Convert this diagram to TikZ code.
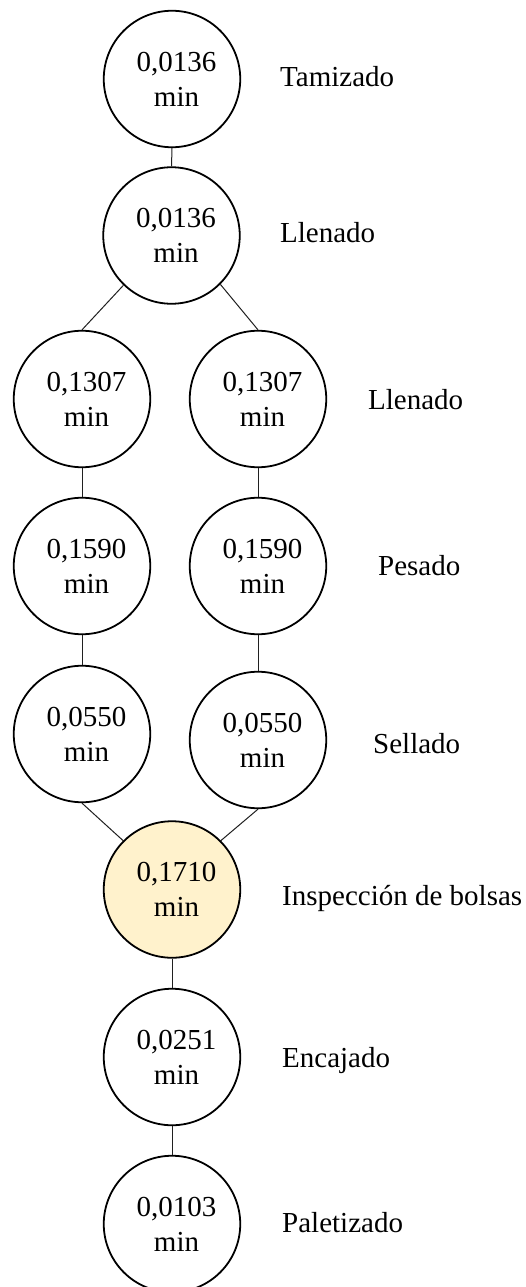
\documentclass[tikz,border=0pt]{standalone}
\usepackage{fontspec}
\setmainfont{Liberation Serif}
\definecolor{hl}{HTML}{FFF2CC}
\definecolor{conn}{HTML}{202020}
\begin{document}
\begin{tikzpicture}[x=1pt,y=-1pt,
  stepc/.style={circle,draw=black,line width=1.8pt,minimum size=136.5pt,inner sep=0pt,fill=white},
  steptxt/.style={align=center,inner sep=0pt,font=\fontsize{29}{35}\selectfont},
  lab/.style={anchor=base west,inner sep=0pt,font=\fontsize{29}{35}\selectfont},
  conn/.style={draw=conn,line width=1pt}]
\useasboundingbox[fill=white] (0,0) rectangle (525,1287);
\newcommand\stp[4]{\node[stepc,#4] (#1) at (#2) {};
  \node[steptxt] (#1t) at ([xshift=4.5pt]#1.center) {#3\\min};}
\stp{n1}{172,79}{0,0136}{}
\stp{n2}{171.5,235.5}{0,0136}{}
\stp{l3}{82,399}{0,1307}{}
\stp{r3}{258,399}{0,1307}{}
\stp{l4}{82,566}{0,1590}{}
\stp{r4}{258,566}{0,1590}{}
\stp{l5}{82,734}{0,0550}{}
\stp{r5}{258,740}{0,0550}{}
\stp{n6}{172,889.5}{0,1710}{fill=hl}
\stp{n7}{172,1057}{0,0251}{}
\stp{n8}{172,1224}{0,0103}{}
\draw[conn] (n1.south) -- (n2.north);
\draw[conn] (n2.226) -- (l3.north);
\draw[conn] (n2.-45) -- (r3.north);
\draw[conn] (l3.south) -- (l4.north);
\draw[conn] (r3.south) -- (r4.north);
\draw[conn] (l4.south) -- (l5.north);
\draw[conn] (r4.south) -- (r5.north);
\draw[conn] (l5.south) -- (n6.135);
\draw[conn] (r5.south) -- (n6.45);
\draw[conn] (n6.south) -- (n7.north);
\draw[conn] (n7.south) -- (n8.north);
\node[lab] (a1) at (280,87) {Tamizado};
\node[lab] (a2) at (280,242) {Llenado};
\node[lab] (a3) at (368,409.5) {Llenado};
\node[lab] (a4) at (378,575.5) {Pesado};
\node[lab] (a5) at (373,753) {Sellado};
\node[lab] (a6) at (282,905) {Inspección de bolsas};
\node[lab] (a7) at (282,1067.5) {Encajado};
\node[lab] (a8) at (282,1232.5) {Paletizado};
\end{tikzpicture}
\end{document}
